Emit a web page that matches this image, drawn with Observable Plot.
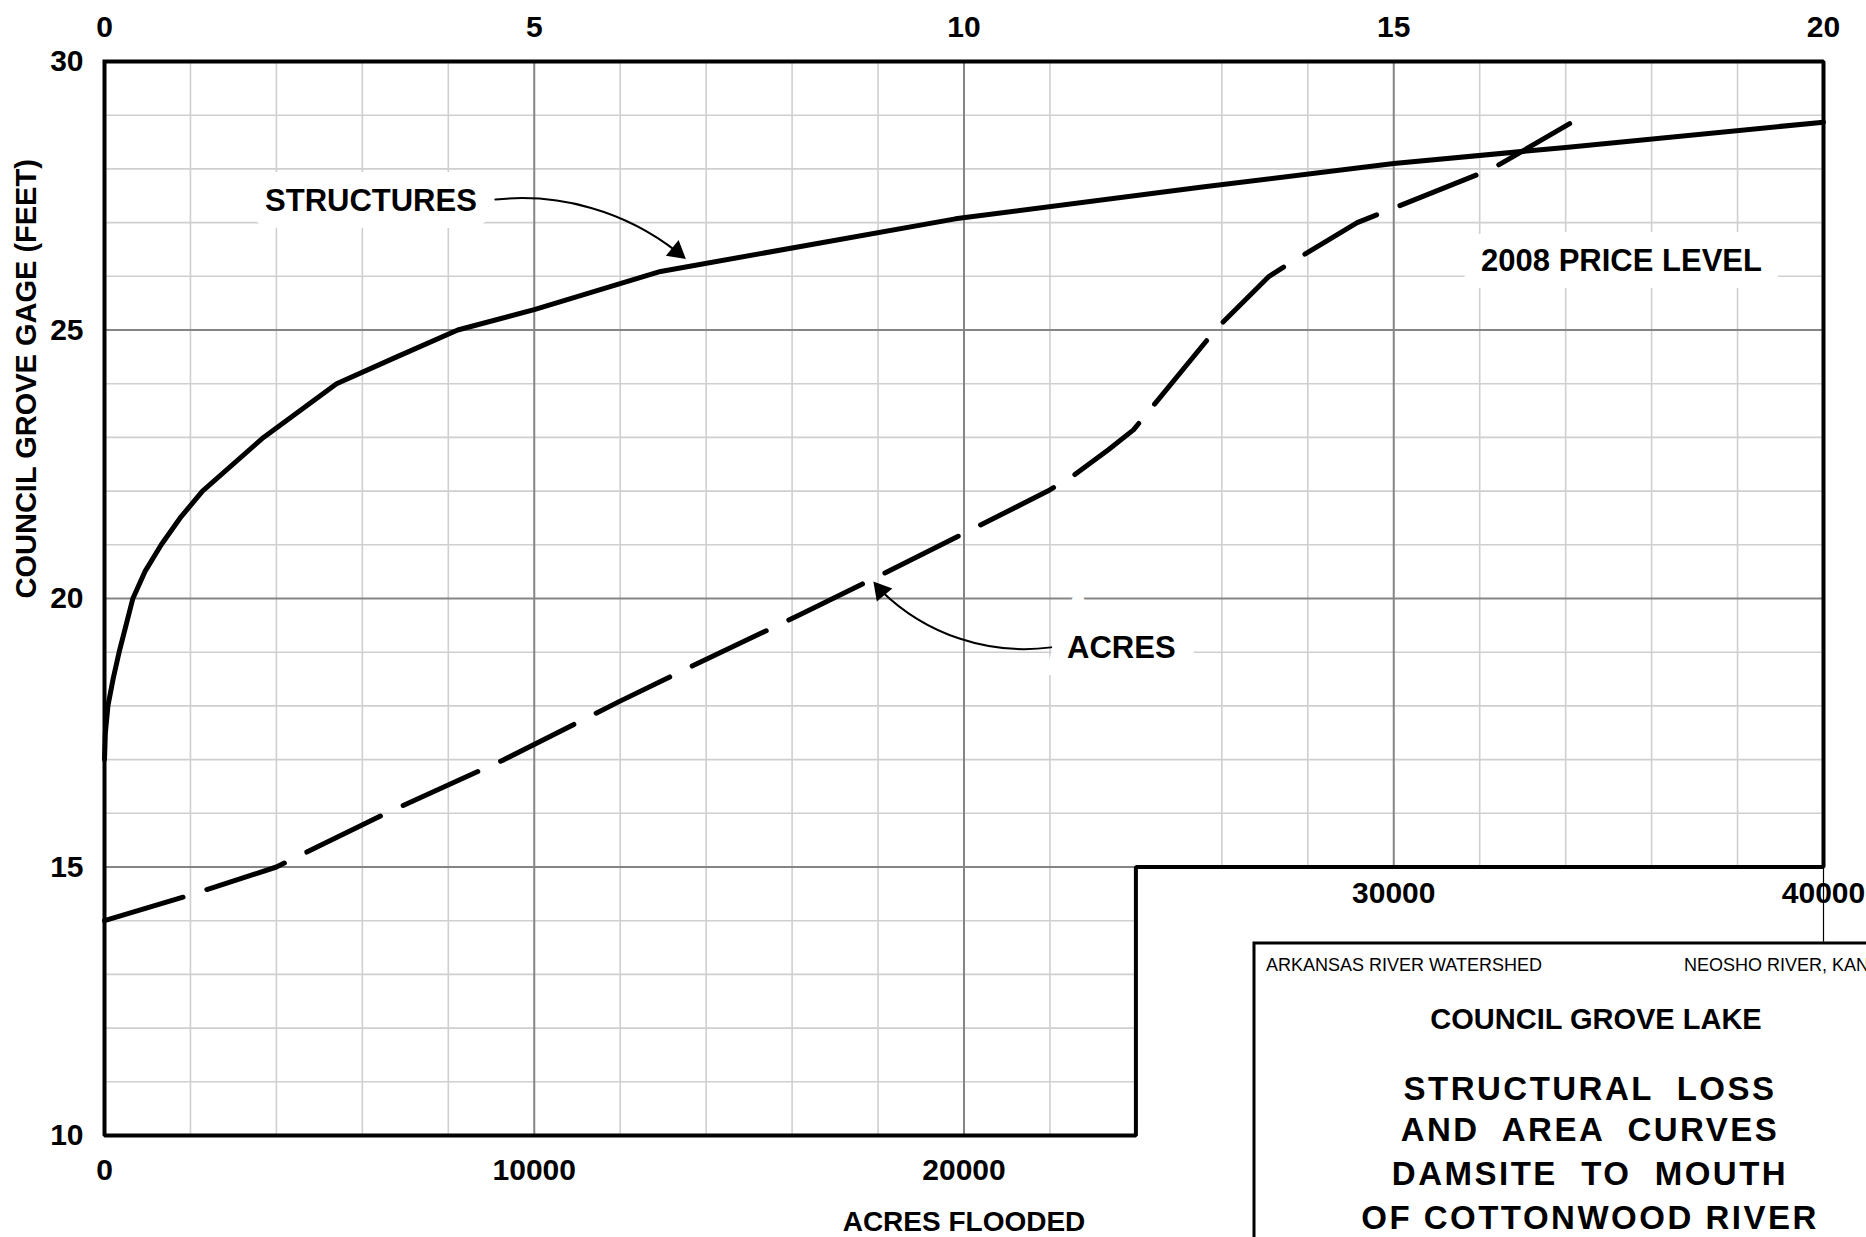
<!DOCTYPE html>
<html>
<head>
<meta charset="utf-8">
<script src="https://cdn.jsdelivr.net/npm/d3@7"></script>
<script src="https://cdn.jsdelivr.net/npm/@observablehq/plot@0.6"></script>
<style>
  html, body { margin: 0; padding: 0; background: #fff; overflow: hidden; }
  #chart { position: relative; width: 1866px; height: 1237px; }
</style>
</head>
<body>
<div id="chart"></div>
<script>
// ---------- DATA ----------
// Structural loss curve: damages (top scale, 0–20) vs Council Grove gage (feet)
const structDamage = [0, 0.01, 0.04, 0.1, 0.17, 0.25, 0.33, 0.47, 0.66, 0.88, 1.14, 1.85, 2.70, 3.40, 4.11, 5.0, 6.47, 9.9, 12.75, 15, 17, 20];
const structGage   = [17.0, 17.5, 18.0, 18.5, 19.0, 19.5, 20.0, 20.5, 21.0, 21.5, 22.0, 23.0, 24.0, 24.5, 25.0, 25.38, 26.09, 27.07, 27.66, 28.1, 28.4, 28.87];

// Area curve: acres flooded (bottom scale) vs gage (feet)
const acresFlooded = [0, 1840, 4000, 6550, 9300, 11950, 13772, 16215, 18600, 20985, 21950, 22550, 23360, 23943, 25880, 27100, 27656, 29150, 32280, 34500];
const acresGage    = [14, 14.44, 15, 16, 17, 18.07, 18.78, 19.71, 20.65, 21.61, 22.0, 22.29, 22.77, 23.14, 25.03, 26.0, 26.28, 27.0, 28.0, 29.03];

// Axis ticks
const topTickLabels   = [0, 5, 10, 15, 20];
const bottomTicksLow  = [0, 10000, 20000];
const bottomTicksHigh = [30000, 40000];
const yTickLabels     = [10, 15, 20, 25, 30];

// Grid
const minorGridX = [2000, 4000, 6000, 8000, 12000, 14000, 16000, 18000, 22000, 26000, 28000, 32000, 34000, 36000, 38000];
const majorGridX = [10000, 20000, 30000];
const minorGridY = [11, 12, 13, 14, 16, 17, 18, 19, 21, 22, 23, 24, 26, 27, 28, 29];
const majorGridY = [15, 20, 25];

// Stepped outline of the chart area (acres, feet)
const outlineAcres = [0, 40000, 40000, 24000, 24000, 0, 0];
const outlineGage  = [30, 30, 15, 15, 10, 10, 30];

// Labels (text, acres, feet)
const labelText  = ["STRUCTURES", "2008 PRICE LEVEL", "ACRES"];
const labelAcres = [6200, 35300, 23660];
const labelGage  = [27.4, 26.29, 19.07];

// Leader arrows (from label to curve)
const arrowFromAcres = [9095, 22028];
const arrowFromGage  = [27.43, 19.09];
const arrowToAcres   = [13317, 18065];
const arrowToGage    = [26.46, 20.15];
const arrowHeadAngle = [129, -40];

// ---------- BUILD ----------
const ACRES_PER_UNIT = 2000; // top scale: 1 unit = 2000 acres on the bottom scale
const stepAcres = 24000, stepGage = 15;

const structures = structDamage.map((d, i) => ({acres: d * ACRES_PER_UNIT, gage: structGage[i]}));
const area = acresFlooded.map((a, i) => ({acres: a, gage: acresGage[i]}));
const outline = outlineAcres.map((a, i) => ({acres: a, gage: outlineGage[i]}));
const labels = labelText.map((t, i) => ({text: t, acres: labelAcres[i], gage: labelGage[i]}));
const arrows = arrowFromAcres.map((a, i) => ({x1: a, y1: arrowFromGage[i], x2: arrowToAcres[i], y2: arrowToGage[i], rot: arrowHeadAngle[i]}));

const FONT = '"Liberation Sans", Arial, Helvetica, sans-serif';
const gridBottom = x => (x > stepAcres ? stepGage : 10);
const gridRight = y => (y < stepGage ? stepAcres : 40000);

const chart = Plot.plot({
  width: 1866,
  height: 1237,
  marginLeft: 104,
  marginRight: 43,
  marginTop: 61,
  marginBottom: 102,
  style: {fontFamily: FONT, background: "#fff", color: "#000", overflow: "visible"},
  x: {domain: [0, 40000], axis: null},
  y: {domain: [10, 30], axis: null},
  marks: [
    // grid
    Plot.ruleX(minorGridX, {x: d => d, y1: gridBottom, y2: 30, stroke: "#cfcfcf", strokeWidth: 1.6}),
    Plot.ruleY(minorGridY, {y: d => d, x1: 0, x2: gridRight, stroke: "#cfcfcf", strokeWidth: 1.6}),
    Plot.ruleX(majorGridX, {x: d => d, y1: gridBottom, y2: 30, stroke: "#858585", strokeWidth: 2}),
    Plot.ruleY(majorGridY, {y: d => d, x1: 0, x2: gridRight, stroke: "#858585", strokeWidth: 2}),
    // label backgrounds + labels
    Plot.text(labels, {x: "acres", y: "gage", text: "text", fontSize: 31, fontWeight: "bold",
      fill: "#000", stroke: "#fff", strokeWidth: 34, strokeLinejoin: "miter", lineAnchor: "middle"}),
    // outline of the chart area
    Plot.line(outline, {x: "acres", y: "gage", stroke: "#000", strokeWidth: 4, strokeLinejoin: "miter", strokeLinecap: "square"}),
    Plot.ruleX([40000], {y1: stepGage, y2: 13.6, stroke: "#000", strokeWidth: 1.2}),
    // curves
    Plot.line(area, {x: "acres", y: "gage", stroke: "#000", strokeWidth: 5, strokeDasharray: "82,25",
      strokeLinecap: "round", strokeLinejoin: "round", curve: "linear"}),
    Plot.line(structures, {x: "acres", y: "gage", stroke: "#000", strokeWidth: 5,
      strokeLinecap: "round", strokeLinejoin: "round", curve: "linear"}),
    // leader arrows
    Plot.arrow(arrows.slice(0, 1), {x1: "x1", y1: "y1", x2: "x2", y2: "y2", bend: 22, headLength: 0, stroke: "#000", strokeWidth: 2}),
    Plot.arrow(arrows.slice(1, 2), {x1: "x1", y1: "y1", x2: "x2", y2: "y2", bend: 26, headLength: 0, stroke: "#000", strokeWidth: 2}),
    Plot.dot(arrows, {x: "x2", y: "y2", symbol: "triangle", r: 7.5, fill: "#000", stroke: "none", rotate: "rot"}),
    // axis labels
    Plot.text(topTickLabels, {x: d => d * ACRES_PER_UNIT, frameAnchor: "top", dy: -34, text: d => String(d),
      fontSize: 30, fontWeight: "bold", lineAnchor: "middle"}),
    Plot.text(yTickLabels, {y: d => d, frameAnchor: "left", dx: -21, text: d => String(d), textAnchor: "end",
      fontSize: 30, fontWeight: "bold", lineAnchor: "middle"}),
    Plot.text(bottomTicksLow, {x: d => d, y: 10, dy: 35, text: d => String(d),
      fontSize: 30, fontWeight: "bold", lineAnchor: "middle"}),
    Plot.text(bottomTicksHigh, {x: d => d, y: stepGage, dy: 26, text: d => String(d),
      fontSize: 30, fontWeight: "bold", lineAnchor: "middle"}),
    Plot.text(["ACRES FLOODED"], {frameAnchor: "bottom", dy: 87, text: d => d,
      fontSize: 28, fontWeight: "bold", lineAnchor: "middle"}),
    Plot.text(["COUNCIL GROVE GAGE (FEET)"], {frameAnchor: "left", dx: -78, rotate: -90, text: d => d,
      fontSize: 29, fontWeight: "bold", lineAnchor: "middle"})
  ]
});

// ---------- TITLE BLOCK ----------
const svg = d3.select(chart);
const tb = svg.append("g").attr("font-family", FONT).attr("fill", "#000").attr("text-anchor", "start");
tb.append("rect").attr("x", 1254).attr("y", 943).attr("width", 700).attr("height", 400)
  .attr("fill", "#fff").attr("stroke", "#000").attr("stroke-width", 3);
tb.append("text").attr("x", 1266).attr("y", 971).attr("font-size", 18).attr("text-anchor", "start")
  .text("ARKANSAS RIVER WATERSHED");
tb.append("text").attr("x", 1684).attr("y", 971).attr("font-size", 18).attr("text-anchor", "start")
  .text("NEOSHO RIVER, KANSAS");
tb.append("text").attr("x", 1596).attr("y", 1029).attr("font-size", 29).attr("font-weight", "bold")
  .attr("text-anchor", "middle").text("COUNCIL GROVE LAKE");
const titleLines = ["STRUCTURAL  LOSS", "AND  AREA  CURVES", "DAMSITE  TO  MOUTH", "OF COTTONWOOD RIVER"];
const titleY = [1100, 1141, 1185, 1229];
titleLines.forEach((t, i) => {
  tb.append("text").attr("x", 1590).attr("y", titleY[i]).attr("font-size", 33).attr("font-weight", "bold")
    .attr("letter-spacing", "2.5px").attr("text-anchor", "middle").style("white-space", "pre")
    .attr("xml:space", "preserve").text(t);
});

document.getElementById("chart").appendChild(chart);
</script>
</body>
</html>
